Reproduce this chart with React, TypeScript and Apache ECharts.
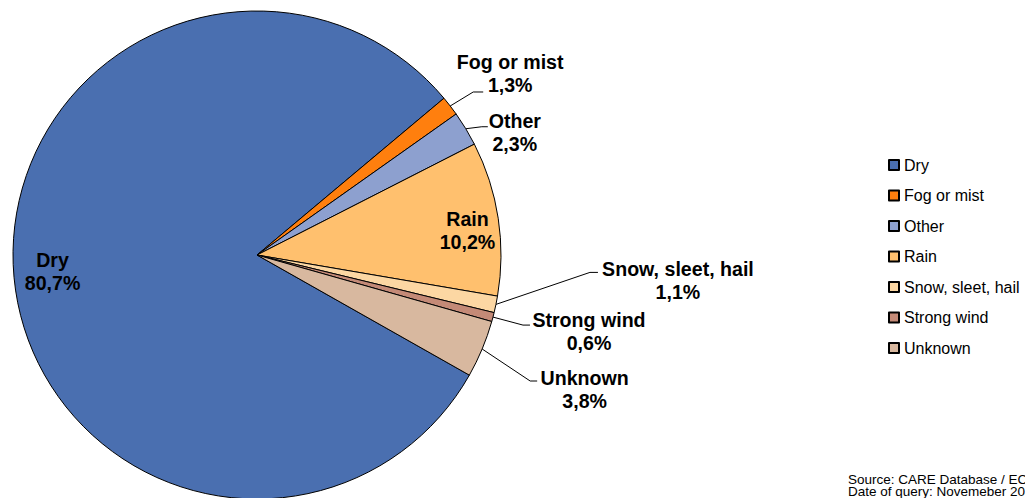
import React, { useEffect, useRef } from 'react';
import * as echarts from 'echarts';

// ---- data ----
const categories = ['Dry', 'Fog or mist', 'Other', 'Rain', 'Snow, sleet, hail', 'Strong wind', 'Unknown'];
const shares = [80.7, 1.3, 2.3, 10.2, 1.1, 0.6, 3.8];
const colors = ['#4a6fb0', '#ff7f0e', '#8da0cf', '#ffc06e', '#fcd7a3', '#c48a77', '#d8b89f'];
const insideLabelNames = ['Dry', 'Rain'];
const sourceLines = ['Source: CARE Database / EC', 'Date of query: Novemeber 20'];

// ---- layout / style ----
const FONT = '"Liberation Sans", Arial, Helvetica, sans-serif';
const PIE_CENTER = [257, 255];
const PIE_RADIUS = 244;
const START_ANGLE = -29.5;

// offsets of inside labels from ECharts' default inside position
const insideOffsets: Record<string, [number, number]> = {
  Dry: [-80, 5],
  Rain: [86.9, -5.6],
};

// leader line shape relative to the slice edge anchor, and label offset from line end
const outsideGuides: Record<string, { ex: number; ey: number; h: number; tx: number; ty: number }> = {
  'Fog or mist': { ex: 23, ey: -14, h: 10, tx: 27, ty: -18 },
  Other: { ex: 16, ey: -2, h: 6, tx: 27, ty: 6 },
  'Snow, sleet, hail': { ex: 94, ey: -32, h: 8, tx: 80, ty: 8 },
  'Strong wind': { ex: 30, ey: 8, h: 7, tx: 59, ty: 6 },
  Unknown: { ex: 48, ey: 32, h: 7, tx: 47.5, ty: 8 },
};

const fmtPct = (v: number) => v.toFixed(1).replace('.', ',') + '%';

export default function App() {
  const ref = useRef<HTMLDivElement>(null);

  useEffect(() => {
    document.body.style.margin = '0';
    if (!ref.current) return;
    const chart = echarts.init(ref.current, undefined, { renderer: 'svg' });

    const option: any = {
      animation: false,
      backgroundColor: '#ffffff',
      legend: {
        orient: 'vertical',
        left: 883,
        top: 152,
        itemWidth: 10,
        itemHeight: 10,
        itemGap: 14.5,
        icon: 'rect',
        selectedMode: false,
        data: categories,
        textStyle: { fontSize: 16, color: '#000', fontFamily: FONT },
      },
      graphic: [
        {
          type: 'text',
          left: 848,
          top: 472,
          silent: true,
          style: {
            text: sourceLines.join('\n'),
            fontSize: 13.5,
            fontFamily: FONT,
            lineHeight: 12,
            fill: '#000',
          },
        },
      ],
      series: [
        {
          type: 'pie',
          center: PIE_CENTER,
          radius: PIE_RADIUS,
          startAngle: START_ANGLE,
          clockwise: true,
          avoidLabelOverlap: false,
          silent: true,
          emphasis: { disabled: true },
          itemStyle: { borderColor: '#000', borderWidth: 1 },
          label: {
            show: true,
            position: 'outside',
            formatter: (p: any) => `{t|${p.name}}\n{t|${fmtPct(p.value)}}`,
            rich: {
              t: {
                fontSize: 19.6,
                fontWeight: 'bold',
                lineHeight: 23,
                align: 'center',
                color: '#000',
                fontFamily: FONT,
              },
            },
          },
          labelLine: {
            show: true,
            length: 10,
            length2: 8,
            lineStyle: { color: '#000', width: 1 },
          },
          labelLayout: (params: any) => {
            const name = categories[params.dataIndex];
            if (insideOffsets[name]) {
              return { dx: insideOffsets[name][0], dy: insideOffsets[name][1] };
            }
            const g = outsideGuides[name];
            const pts = params.labelLinePoints;
            if (!g || !pts || !pts.length) return {};
            const p0 = pts[0];
            const elbow = [p0[0] + g.ex, p0[1] + g.ey];
            const end = [elbow[0] + g.h, elbow[1]];
            return {
              x: end[0] + g.tx,
              y: end[1] + g.ty,
              align: 'center',
              verticalAlign: 'middle',
              labelLinePoints: [p0, elbow, end],
            };
          },
          data: categories.map((name, i) => ({
            name,
            value: shares[i],
            itemStyle: { color: colors[i] },
            label: insideLabelNames.includes(name) ? { position: 'inside' } : undefined,
          })),
        },
      ],
    };

    chart.setOption(option);
    return () => chart.dispose();
  }, []);

  return <div ref={ref} style={{ width: 1025, height: 498 }} />;
}
